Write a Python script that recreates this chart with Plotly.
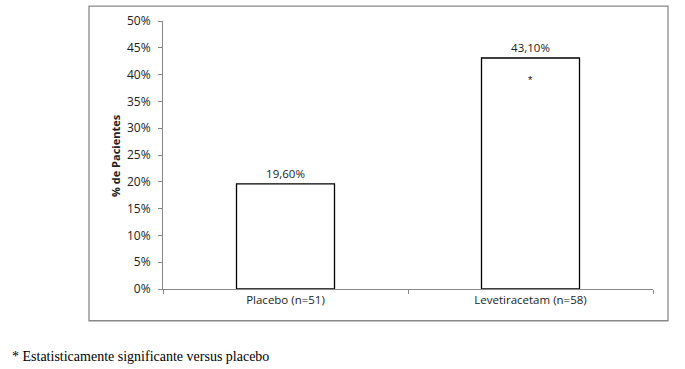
import plotly.graph_objects as go

categories = ["Placebo (n=51)", "Levetiracetam (n=58)"]
values = [0.196, 0.431]
significance = ["", "*"]
y_ticks = [0, 0.05, 0.10, 0.15, 0.20, 0.25, 0.30, 0.35, 0.40, 0.45, 0.50]
footnote = "* Estatisticamente significante versus placebo"
y_title = "% de Pacientes"

W, H = 685, 369
L, R, T, B = 163, 32, 19, 80
pw, ph = W - L - R, H - T - B

def px_x(x):
    return (x - L) / pw

def px_y(y):
    return (H - B - y) / ph

SANS = "Open Sans, Liberation Sans"

fig = go.Figure()
fig.add_trace(go.Bar(
    x=categories, y=values, width=0.4,
    marker=dict(color="white", line=dict(color="black", width=1.3)),
    texttemplate="%{y:.2%}", textposition="outside",
    textfont=dict(family=SANS, size=11.5, color="#222"),
    cliponaxis=False, hoverinfo="skip",
))

for c, v, s in zip(categories, values, significance):
    if s:
        fig.add_annotation(x=c, y=v, yshift=-22, text=s, showarrow=False,
                           font=dict(family="Liberation Sans", size=11, color="#111"))

fig.add_annotation(xref="paper", yref="paper", x=px_x(10), y=px_y(357),
                   xanchor="left", yanchor="middle", text=footnote, showarrow=False,
                   font=dict(family="Liberation Serif", size=14, color="black"))

fig.add_annotation(xref="paper", yref="paper", x=px_x(116), y=px_y(155),
                   xanchor="center", yanchor="middle", text="<b>" + y_title + "</b>",
                   textangle=-90, showarrow=False,
                   font=dict(family=SANS, size=11, color="#222"))

fig.add_shape(type="rect", xref="paper", yref="paper",
              x0=px_x(89), x1=px_x(668), y0=px_y(321), y1=px_y(4),
              line=dict(color="#888888", width=1.3), fillcolor="rgba(0,0,0,0)", layer="below")

fig.update_layout(
    width=W, height=H, margin=dict(l=L, r=R, t=T, b=B),
    paper_bgcolor="white", plot_bgcolor="white",
    separators=",.", showlegend=False,
    font=dict(family=SANS, size=11, color="#222"),
    xaxis=dict(showline=True, linecolor="#888888", linewidth=1, ticks="outside",
               tickson="boundaries", ticklen=4, tickcolor="#888888",
               showgrid=False, zeroline=False,
               tickfont=dict(family=SANS, size=11.5, color="#222")),
    yaxis=dict(range=[0, 0.5], tickvals=y_ticks, tickformat=".0%",
               showline=True, linecolor="#888888", linewidth=1, ticks="outside",
               ticklen=4, tickcolor="#888888", showgrid=False, zeroline=False,
               ticklabelstandoff=5,
               tickfont=dict(family=SANS, size=12, color="#222")),
)

fig.write_html("out.html", config={"displayModeBar": False},
               post_script="document.body.style.margin='0';")
